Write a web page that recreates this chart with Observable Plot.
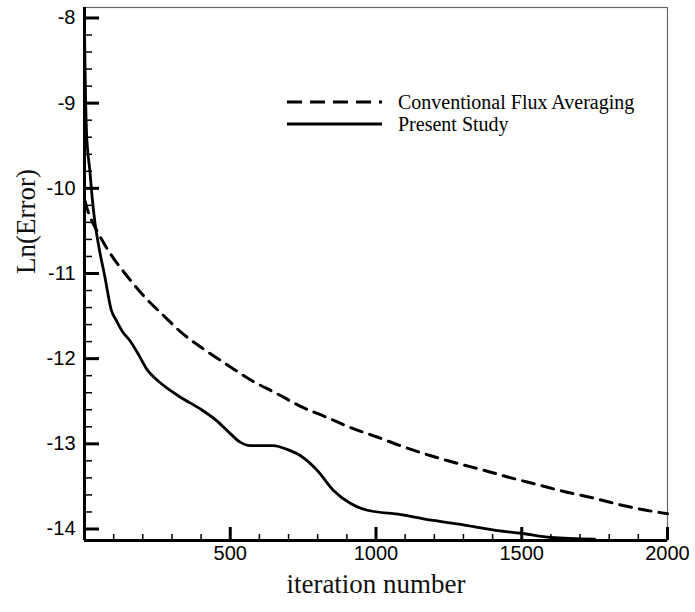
<!DOCTYPE html>
<html>
<head>
<meta charset="utf-8">
<script src="https://cdn.jsdelivr.net/npm/d3@7"></script>
<script src="https://cdn.jsdelivr.net/npm/@observablehq/plot@0.6"></script>
<style>
  html, body { margin: 0; padding: 0; background: white; }
  #chart { width: 695px; height: 612px; }
</style>
</head>
<body>
<div id="chart"></div>
<script>
// ---- Data ----
const iterPresent = [0, 2, 4, 7, 11, 18, 24, 35, 50, 70, 92, 109, 130, 156, 185, 213, 259, 328, 397, 454, 500, 534, 569, 610, 648, 690, 741, 798, 855, 913, 970, 1085, 1198, 1314, 1417, 1498, 1600, 1750];
const lnPresent   = [-8.15, -8.6, -9.0, -9.35, -9.56, -9.78, -10.02, -10.38, -10.7, -11.04, -11.43, -11.55, -11.68, -11.79, -11.95, -12.12, -12.28, -12.45, -12.59, -12.73, -12.88, -12.98, -13.02, -13.02, -13.02, -13.06, -13.14, -13.31, -13.55, -13.70, -13.78, -13.83, -13.90, -13.96, -14.02, -14.05, -14.10, -14.12];

const iterConv = [2, 10, 25, 46, 87, 139, 205, 270, 338, 414, 493, 575, 660, 741, 832, 913, 1004, 1090, 1188, 1280, 1370, 1463, 1555, 1645, 1738, 1830, 1927, 2000];
const lnConv   = [-10.15, -10.25, -10.38, -10.52, -10.76, -11.0, -11.27, -11.49, -11.71, -11.90, -12.08, -12.26, -12.41, -12.56, -12.69, -12.81, -12.92, -13.03, -13.14, -13.23, -13.31, -13.40, -13.48, -13.56, -13.63, -13.71, -13.78, -13.82];

const xTickLabels = [500, 1000, 1500, 2000];
const yTickLabels = [-8, -9, -10, -11, -12, -13, -14];
const xDomain = [0, 2000];
const yDomain = [-14.135, -7.877];

const seriesNames = ["Conventional Flux Averaging", "Present Study"];
const xTitle = "iteration number";
const yTitle = "Ln(Error)";

// ---- Derived tables ----
const present = iterPresent.map((x, i) => ({x, y: lnPresent[i]}));
const conv = iterConv.map((x, i) => ({x, y: lnConv[i]}));
const xMajor = [0, ...xTickLabels];
const xMinor = d3.range(100, 2000, 100).filter(v => v % 500 !== 0);
const yMinor = d3.range(-13.8, -8.0, 0.2).map(v => Math.round(v * 10) / 10).filter(v => !Number.isInteger(v));

const W = 695, H = 612, mL = 84, mR = 28, mT = 7, mB = 72;
const plotW = W - mL - mR, plotH = H - mT - mB;
const serif = "'Liberation Serif', 'Times New Roman', serif";

const chart = Plot.plot({
  width: W, height: H,
  marginLeft: mL, marginRight: mR, marginTop: mT, marginBottom: mB,
  style: {fontFamily: "'Liberation Sans', Arial, sans-serif", fontSize: "20px", color: "black", background: "white"},
  x: {domain: xDomain, ticks: xTickLabels, tickSize: 0, tickPadding: 5, tickFormat: d => String(d), label: null},
  y: {domain: yDomain, ticks: yTickLabels, tickSize: 0, tickPadding: 9, tickFormat: d => String(d), label: null},
  marks: [
    Plot.frame({stroke: "#666", strokeWidth: 1.2}),
    Plot.tickX(xMinor, {x: d => d, insetTop: plotH - 6, strokeWidth: 1.5, stroke: "black"}),
    Plot.tickX(xMajor, {x: d => d, insetTop: plotH - 13, strokeWidth: 3, stroke: "black"}),
    Plot.tickY(yMinor, {y: d => d, insetRight: plotW - 8, strokeWidth: 1.5, stroke: "black"}),
    Plot.tickY(yTickLabels, {y: d => d, insetRight: plotW - 15, strokeWidth: 3, stroke: "black"}),
    Plot.ruleX([xDomain[0]], {strokeWidth: 3, stroke: "black"}),
    Plot.ruleY([yDomain[0]], {strokeWidth: 3, stroke: "black"}),
    Plot.line(conv, {x: "x", y: "y", stroke: "black", strokeWidth: 3, strokeDasharray: "12,8", curve: "monotone-x"}),
    Plot.line(present, {x: "x", y: "y", stroke: "black", strokeWidth: 2.8, curve: "monotone-x"}),
    Plot.text([xTitle], {text: d => d, frameAnchor: "bottom", dy: 52, fontFamily: serif, fontSize: 27, fill: "#111"}),
    Plot.text([yTitle], {text: d => d, frameAnchor: "left", dx: -58, rotate: -90, fontFamily: serif, fontSize: 27, fill: "#111"})
  ]
});

// ---- Legend (inside the plot, top right) ----
const svg = d3.select(chart);
const lg = svg.append("g").attr("font-family", serif).attr("font-size", 20).attr("fill", "black").attr("text-anchor", "start");
const legendRows = [
  {name: seriesNames[0], dash: "15,8", y: 102},
  {name: seriesNames[1], dash: null, y: 124}
];
legendRows.forEach(r => {
  lg.append("line").attr("x1", 287).attr("x2", 382).attr("y1", r.y).attr("y2", r.y)
    .attr("stroke", "black").attr("stroke-width", 3).attr("stroke-dasharray", r.dash);
  lg.append("text").attr("x", 398).attr("y", r.y).attr("dy", "0.35em").attr("text-anchor", "start").text(r.name);
});

document.getElementById("chart").appendChild(chart);
</script>
</body>
</html>
